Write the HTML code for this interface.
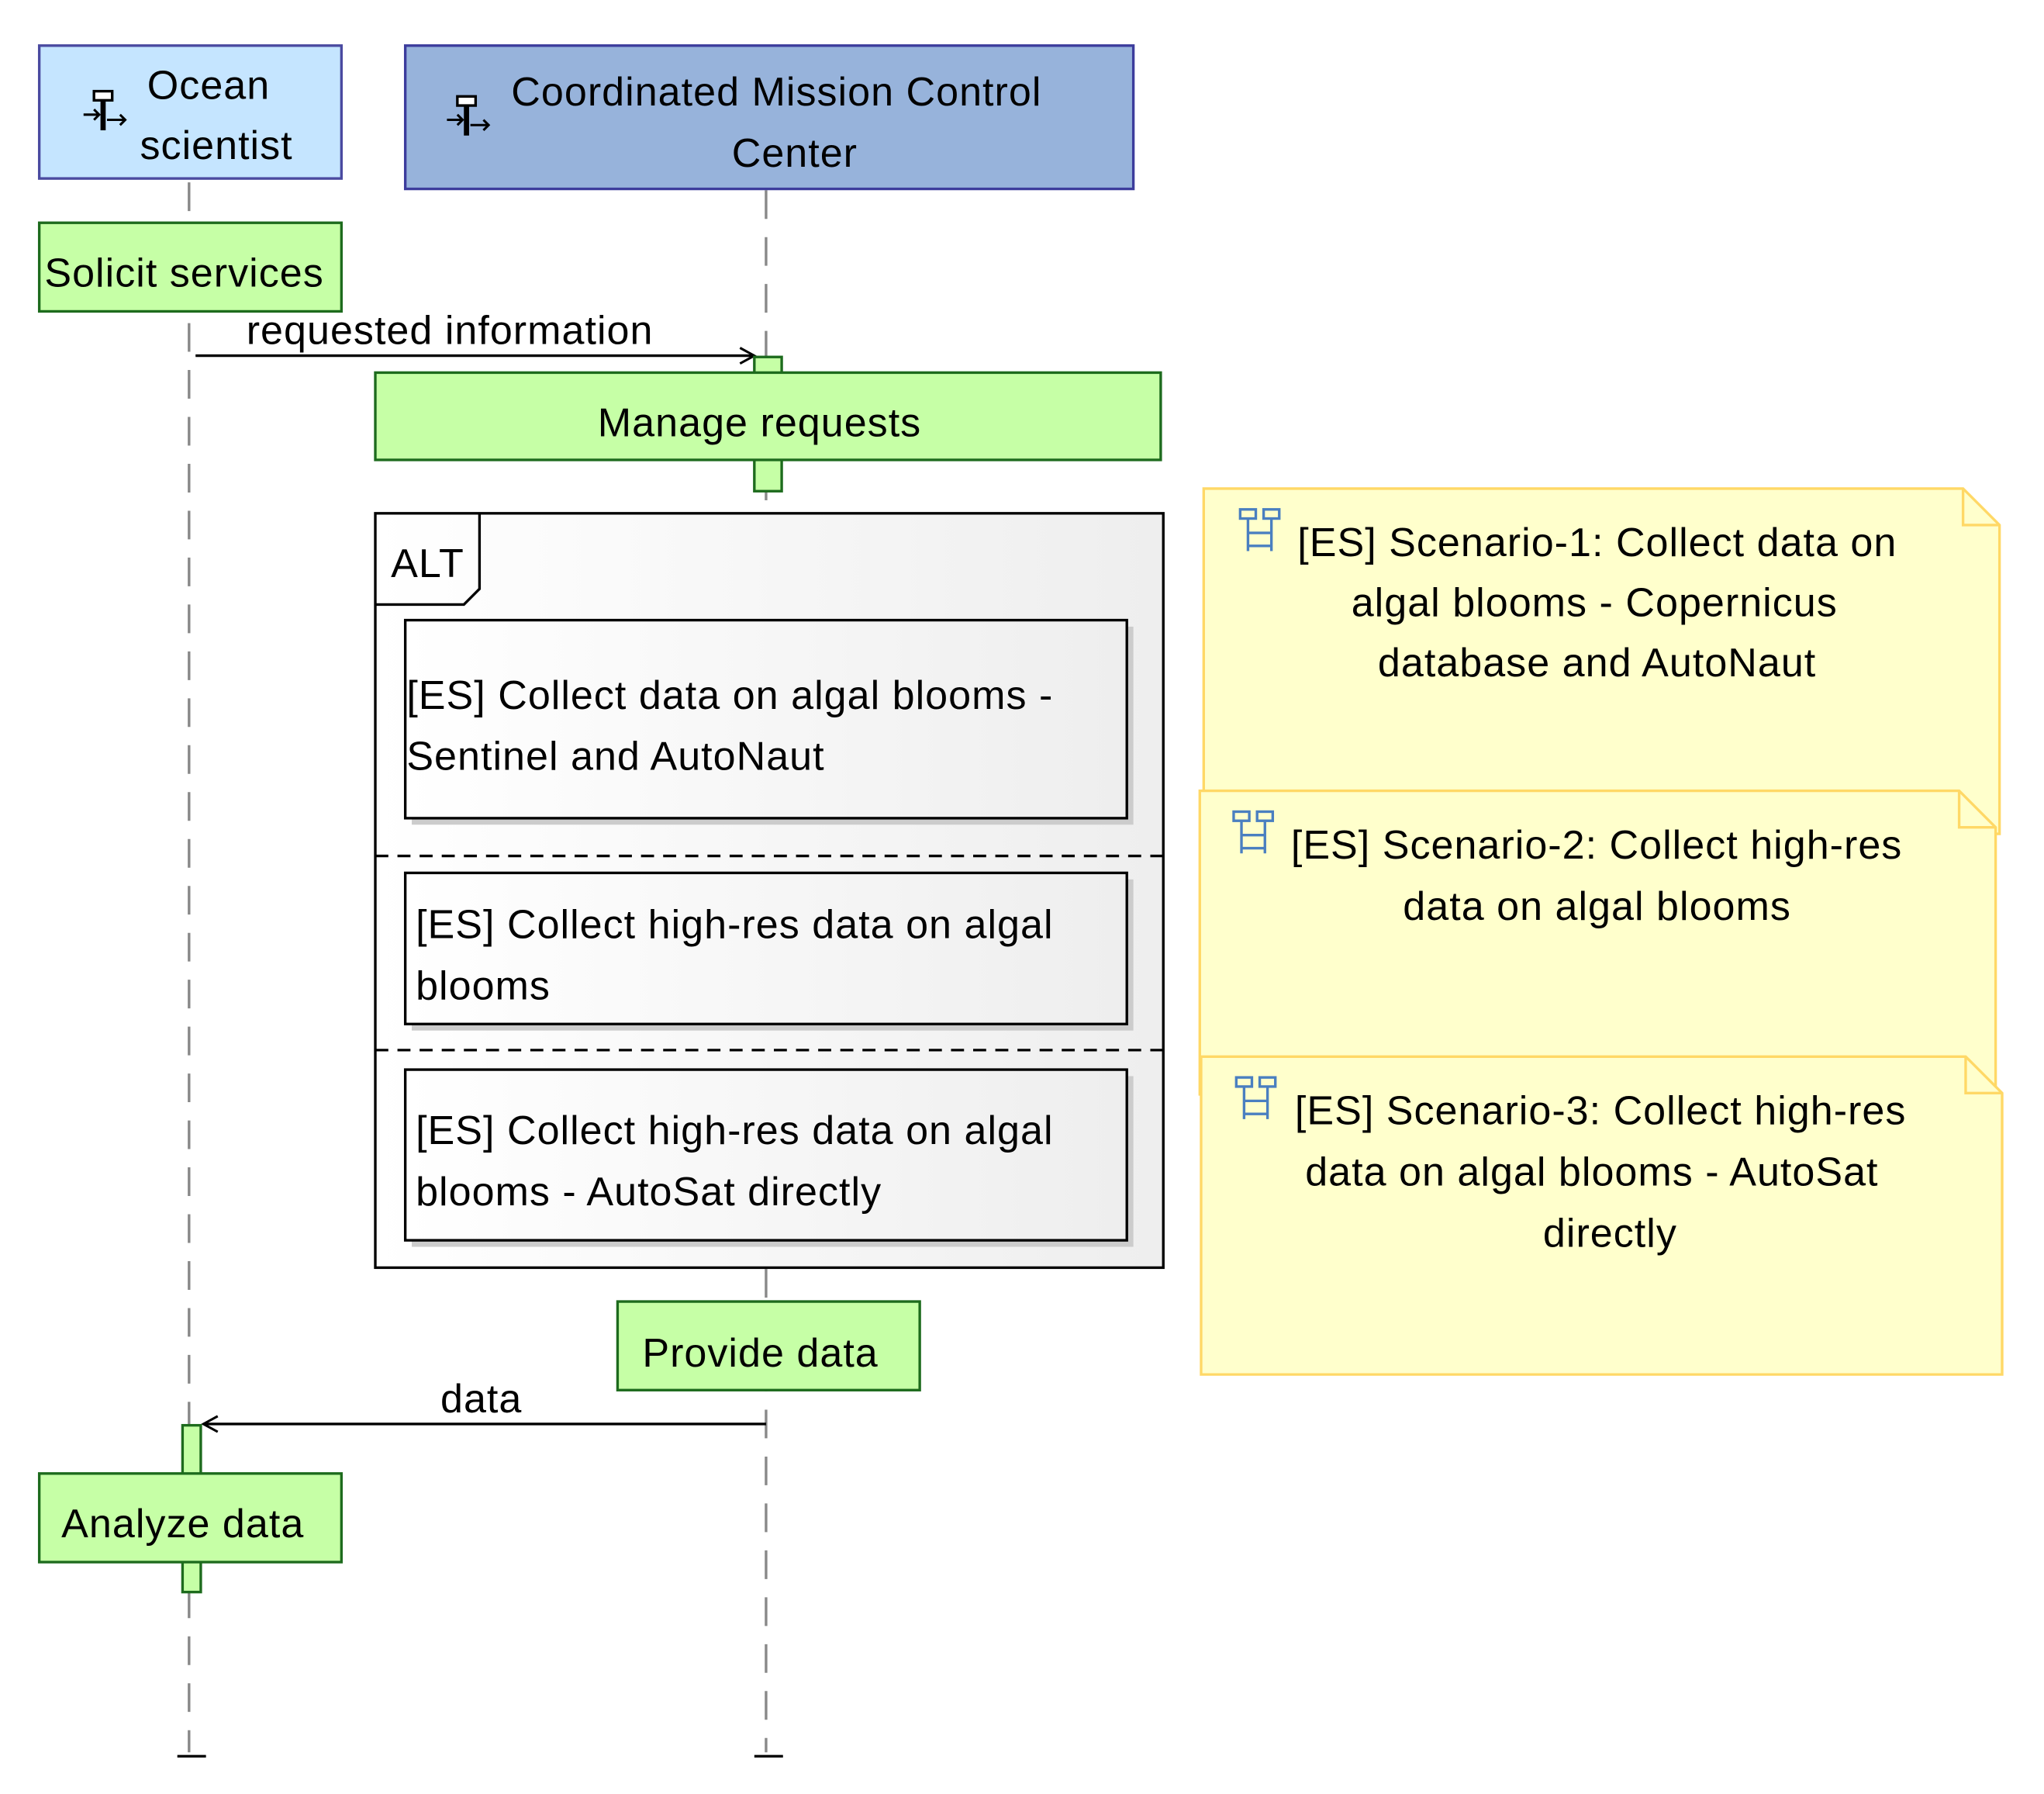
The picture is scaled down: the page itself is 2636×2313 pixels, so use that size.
<!DOCTYPE html>
<html><head><meta charset="utf-8"><style>
html,body{margin:0;padding:0;background:#fff}
svg{display:block}
text{font-family:"Liberation Sans",sans-serif;font-size:31px;letter-spacing:0.6px;fill:#000}
</style></head><body>
<svg width="2636" height="2313" viewBox="0 0 1569 1377" xmlns="http://www.w3.org/2000/svg">
<defs>
<linearGradient id="g" x1="0" y1="0" x2="1" y2="0"><stop offset="0" stop-color="#fff"/><stop offset="1" stop-color="#eeeeee"/></linearGradient>
<marker id="a" markerWidth="14" markerHeight="14" refX="12" refY="7" orient="auto" markerUnits="userSpaceOnUse"><path d="M1,1 L12,7 L1,13" fill="none" stroke="#000" stroke-width="1.8"/></marker>
<g id="ic"><rect x="0" y="0" width="12" height="7" fill="none" stroke="#4a7fc0" stroke-width="2"/><rect x="18" y="0" width="12" height="7" fill="none" stroke="#4a7fc0" stroke-width="2"/><path d="M6,7 V32 M24,7 V32 M6,18 H24 M6,28 H24" stroke="#4a7fc0" stroke-width="2" fill="none"/></g>
<g id="ac"><rect x="8" y="0" width="14" height="7" fill="#fff" stroke="#000" stroke-width="2"/><path d="M15,7 V30" stroke="#000" stroke-width="4"/><path d="M0,18 H12 M8,14 L12,18 L8,22 M18,22 H32 M28,18 L32,22 L28,26" stroke="#000" stroke-width="1.8" fill="none"/></g>
</defs>
<path d="M145,140 V1345 M588,146 V1345" stroke="#888" stroke-width="2" stroke-dasharray="22,14"/>
<path d="M136,1348 H158 M579,1348 H601" stroke="#000" stroke-width="2"/>
<rect x="30" y="35" width="232" height="102" fill="#c5e5ff" stroke="#4a4aa0" stroke-width="2"/>
<use href="#ac" x="64" y="70"/>
<text x="160" y="76" text-anchor="middle">Ocean</text>
<text x="166" y="122" text-anchor="middle">scientist</text>
<rect x="311" y="35" width="559" height="110" fill="#97b3db" stroke="#3c3c9c" stroke-width="2"/>
<use href="#ac" x="343" y="74"/>
<text x="596" y="81" text-anchor="middle">Coordinated Mission Control</text>
<text x="610" y="128" text-anchor="middle">Center</text>
<rect x="30" y="171" width="232" height="68" fill="#c6ffa6" stroke="#1d6b1d" stroke-width="2"/>
<text x="34" y="220">Solicit services</text>
<line x1="150" y1="273" x2="579" y2="273" stroke="#000" stroke-width="2" marker-end="url(#a)"/>
<text x="189" y="264">requested information</text>
<rect x="579" y="274" width="21" height="103" fill="#c6ffa6" stroke="#1d6b1d" stroke-width="2"/>
<rect x="288" y="286" width="603" height="67" fill="#c6ffa6" stroke="#1d6b1d" stroke-width="2"/>
<text x="583" y="335" text-anchor="middle">Manage requests</text>
<rect x="288" y="394" width="605" height="579" fill="url(#g)" stroke="#000" stroke-width="2"/>
<path d="M288,464 H356 L368,452 V394" fill="none" stroke="#000" stroke-width="2"/>
<text x="300" y="443">ALT</text>
<path d="M288,657 H893 M288,806 H893" stroke="#000" stroke-width="2" stroke-dasharray="10,7"/>
<g fill="#ccc"><rect x="316" y="481" width="554" height="152"/><rect x="316" y="675" width="554" height="116"/><rect x="316" y="826" width="554" height="131"/></g>
<g fill="url(#g)" stroke="#000" stroke-width="2"><rect x="311" y="476" width="554" height="152"/><rect x="311" y="670" width="554" height="116"/><rect x="311" y="821" width="554" height="131"/></g>
<text x="312" y="544">[ES] Collect data on algal blooms -</text>
<text x="312" y="591">Sentinel and AutoNaut</text>
<text x="319" y="720">[ES] Collect high-res data on algal</text>
<text x="319" y="767">blooms</text>
<text x="319" y="878">[ES] Collect high-res data on algal</text>
<text x="319" y="925">blooms - AutoSat directly</text>
<rect x="474" y="999" width="232" height="68" fill="#c6ffa6" stroke="#1d6b1d" stroke-width="2"/>
<text x="493" y="1049">Provide data</text>
<line x1="588" y1="1093" x2="156" y2="1093" stroke="#000" stroke-width="2" marker-end="url(#a)"/>
<text x="338" y="1084">data</text>
<rect x="140" y="1094" width="14" height="128" fill="#c6ffa6" stroke="#1d6b1d" stroke-width="2"/>
<rect x="30" y="1131" width="232" height="68" fill="#c6ffa6" stroke="#1d6b1d" stroke-width="2"/>
<text x="47" y="1180">Analyze data</text>
<g fill="#ffffcc" stroke="#ffd866" stroke-width="2">
<path d="M924,375 H1507 L1535,403 V640 H924 Z"/><path d="M1507,375 V403 H1535" fill="none"/>
<path d="M921,607 H1504 L1532,635 V840 H921 Z"/><path d="M1504,607 V635 H1532" fill="none"/>
<path d="M922,811 H1509 L1537,839 V1055 H922 Z"/><path d="M1509,811 V839 H1537" fill="none"/>
</g>
<use href="#ic" x="952" y="391"/><use href="#ic" x="947" y="623"/><use href="#ic" x="949" y="827"/>
<text x="996" y="427">[ES] Scenario-1: Collect data on</text>
<text x="1224" y="473" text-anchor="middle">algal blooms - Copernicus</text>
<text x="1226" y="519" text-anchor="middle">database and AutoNaut</text>
<text x="991" y="659">[ES] Scenario-2: Collect high-res</text>
<text x="1226" y="706" text-anchor="middle">data on algal blooms</text>
<text x="994" y="863">[ES] Scenario-3: Collect high-res</text>
<text x="1222" y="910" text-anchor="middle">data on algal blooms - AutoSat</text>
<text x="1236" y="957" text-anchor="middle">directly</text>
</svg>
</body></html>
